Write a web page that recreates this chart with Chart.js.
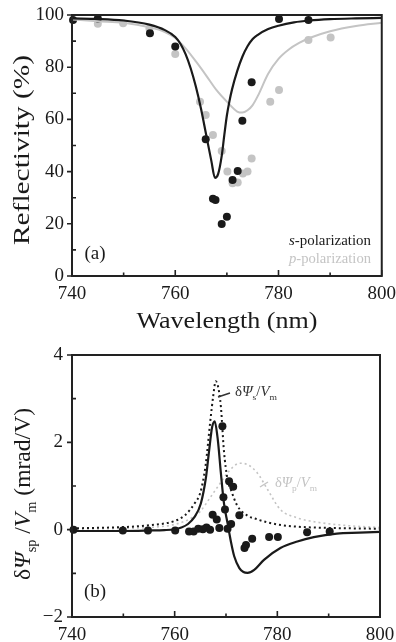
<!DOCTYPE html>
<html>
<head>
<meta charset="utf-8">
<script src="https://cdn.jsdelivr.net/npm/chart.js@4.4.1/dist/chart.umd.min.js"></script>
<style>
  html, body { margin: 0; padding: 0; background: #fff; }
  #wrap { position: relative; width: 396px; height: 642px; overflow: hidden; }
  .box { position: absolute; left: 0; width: 396px; }
</style>
</head>
<body>
<div id="wrap">
  <div class="box" style="top:0;height:340px"><canvas id="chartA"></canvas></div>
  <div class="box" style="top:340px;height:302px"><canvas id="chartB"></canvas></div>
</div>
<script>
// ---- panel (a): reflectivity ----
const sPointWl = [740.2, 745.0, 755.1, 760.0, 765.9, 767.3, 767.8, 769.0, 770.0, 771.1, 772.1, 773.0, 774.8, 780.1, 785.8];
const sPointR  = [98.1, 98.7, 93.0, 87.9, 52.4, 29.6, 29.1, 19.9, 22.7, 36.8, 40.2, 59.5, 74.2, 98.5, 98.1];
const pPointWl = [745.0, 749.9, 755.0, 760.0, 764.8, 765.9, 767.3, 769.0, 770.1, 771.1, 772.1, 773.1, 774.0, 774.8, 778.4, 780.1, 785.8, 790.1];
const pPointR  = [96.6, 96.8, 94.8, 85.1, 66.8, 61.7, 54.0, 47.9, 40.0, 35.5, 35.8, 39.3, 40.0, 45.0, 66.8, 71.3, 90.4, 91.4];
const sFitWl = [740, 745, 750, 755, 758, 760, 761, 762, 763, 764, 765, 766, 767, 767.7, 768.3, 769, 769.5, 770, 770.5, 771, 772, 773, 774, 775, 776, 778, 780, 783, 786, 790, 795, 800];
const sFitR  = [98.7, 98.5, 97.9, 96.3, 94.2, 91.6, 89, 85, 79.5, 72.5, 64, 54, 44, 37.6, 39, 46, 54, 61.5, 67, 71.5, 78.5, 84, 88, 90.8, 92.4, 94.6, 95.9, 97.2, 97.9, 98.4, 98.7, 98.9];
const pFitWl = [740, 745, 750, 755, 758, 760, 762, 764, 766, 768, 770, 772, 773, 774, 775, 776, 778, 780, 782, 784, 786, 790, 795, 800];
const pFitR  = [98.3, 97.6, 97.0, 95.3, 93.5, 91.2, 87.2, 82.2, 76.8, 71.2, 66.8, 63.0, 62.6, 63.5, 65.5, 69.0, 77.5, 83.2, 86.8, 89.3, 91.2, 93.8, 95.8, 97.0];

// ---- panel (b): modulation signal ----
const sigPointWl = [740.3, 749.9, 754.8, 760.1, 762.8, 763.7, 764.6, 765.5, 766.2, 766.9, 767.4, 768.2, 768.7, 769.3, 769.5, 769.8, 770.3, 770.6, 771.0, 771.4, 772.6, 773.6, 773.9, 775.1, 778.4, 780.1, 785.8, 790.2];
const sigPointV  = [0.0, -0.02, -0.02, -0.02, -0.04, -0.04, 0.02, 0.01, 0.05, 0.0, 0.34, 0.23, 0.04, 2.37, 0.74, 0.46, 0.02, 1.11, 0.13, 0.98, 0.33, -0.42, -0.35, -0.21, -0.17, -0.17, -0.06, -0.04];
const spFitWl = [740, 750, 755, 758, 760, 761.3, 762.6, 763.8, 765.1, 766.1, 766.7, 767.3, 767.8, 768.4, 769.0, 769.6, 770.3, 771.0, 771.6, 772.6, 773.4, 774.2, 775.5, 777.4, 780.6, 783.9, 787.1, 791.6, 796, 800];
const spFitV  = [-0.03, -0.03, -0.02, -0.01, 0.01, 0.05, 0.13, 0.28, 0.6, 1.2, 1.8, 2.35, 2.48, 2.06, 1.3, 0.61, 0.15, -0.3, -0.61, -0.88, -0.97, -0.99, -0.92, -0.69, -0.42, -0.27, -0.17, -0.09, -0.07, -0.05];
const sDotWl = [740, 750, 755, 760, 762, 764, 765, 766, 767, 767.5, 768, 768.5, 769, 769.6, 770.3, 771, 772.2, 774.2, 776, 778, 781, 785, 790, 800];
const sDotV  = [0.03, 0.06, 0.1, 0.2, 0.33, 0.62, 0.85, 1.45, 2.55, 3.05, 3.4, 3.25, 2.82, 1.8, 1.15, 0.9, 0.55, 0.32, 0.24, 0.17, 0.1, 0.06, 0.04, 0.02];
const pDotWl = [740, 750, 755, 760, 763, 765, 767, 768.5, 770.3, 771.5, 772.6, 774.2, 776.1, 778.1, 780.6, 783.9, 788.4, 794, 800];
const pDotV  = [0.01, 0.03, 0.05, 0.12, 0.25, 0.42, 0.75, 1.0, 1.3, 1.45, 1.52, 1.49, 1.3, 0.92, 0.46, 0.27, 0.16, 0.09, 0.05];

const xMinor = [750, 770, 790];
const yMinorA = [10, 30, 50, 70, 90];
const yMinorB = [-1, 1, 3];

const INK = '#1a1a1a';
const GREY = '#c4c4c4';
const SERIF = '"Liberation Serif", "DejaVu Serif", serif';

const pts = (xs, ys) => xs.map((x, i) => ({ x: x, y: ys[i] }));

// border box + tick marks, positioned through the chart scales
const framePlugin = {
  id: 'frame',
  afterDraw(chart, args, opts) {
    const ctx = chart.ctx, a = chart.chartArea;
    const xs = chart.scales.x, ys = chart.scales.y;
    ctx.save();
    ctx.strokeStyle = '#222';
    ctx.lineWidth = 1.6;
    ctx.beginPath();
    xs.ticks.forEach(t => {
      const px = xs.getPixelForValue(t.value);
      ctx.moveTo(px, a.bottom); ctx.lineTo(px, a.bottom - 6);
    });
    xMinor.forEach(v => {
      const px = xs.getPixelForValue(v);
      ctx.moveTo(px, a.bottom); ctx.lineTo(px, a.bottom - 3.5);
    });
    ys.ticks.forEach(t => {
      const py = ys.getPixelForValue(t.value);
      ctx.moveTo(a.left, py); ctx.lineTo(a.left - 5, py);
    });
    opts.yMinor.forEach(v => {
      const py = ys.getPixelForValue(v);
      ctx.moveTo(a.left, py); ctx.lineTo(a.left + 4, py);
    });
    ctx.stroke();
    ctx.lineWidth = 2;
    ctx.strokeRect(a.left, a.top, a.right - a.left, a.bottom - a.top);
    ctx.restore();
  }
};

// draw a line of mixed-font runs, stretched to a given length
function drawRuns(ctx, runs, x, y, targetW, rotate, align) {
  ctx.save();
  let total = 0;
  runs.forEach(r => { ctx.font = r.font; r.w = ctx.measureText(r.t).width; total += r.w; });
  const k = targetW ? targetW / total : 1;
  ctx.translate(x, y);
  if (rotate) ctx.rotate(-Math.PI / 2);
  ctx.scale(k, 1);
  ctx.textBaseline = 'alphabetic';
  ctx.textAlign = 'left';
  let cx = align === 'left' ? 0 : align === 'right' ? -total : -total / 2;
  runs.forEach(r => {
    ctx.font = r.font;
    ctx.fillStyle = r.color || INK;
    ctx.fillText(r.t, cx, r.dy || 0);
    cx += r.w;
  });
  ctx.restore();
}

function leader(ctx, x1, y1, x2, y2, color) {
  ctx.save();
  ctx.strokeStyle = color; ctx.lineWidth = 1.4;
  ctx.beginPath(); ctx.moveTo(x1, y1); ctx.lineTo(x2, y2); ctx.stroke();
  ctx.restore();
}

const textA = {
  id: 'textA',
  afterDraw(chart) {
    const ctx = chart.ctx;
    drawRuns(ctx, [{ t: 'Reflectivity (%)', font: '24px ' + SERIF }], 29, 150, 190, true);
    drawRuns(ctx, [{ t: 'Wavelength (nm)', font: '23px ' + SERIF }], 227, 328, 181, false);
    drawRuns(ctx, [{ t: '(a)', font: '19px ' + SERIF }], 95, 259, 0, false);
    drawRuns(ctx, [{ t: 's', font: 'italic 15px ' + SERIF }, { t: '-polarization', font: '15px ' + SERIF }], 371, 245, 82, false, 'right');
    drawRuns(ctx, [{ t: 'p', font: 'italic 15px ' + SERIF, color: GREY }, { t: '-polarization', font: '15px ' + SERIF, color: GREY }], 371, 263, 82, false, 'right');
  }
};

const textB = {
  id: 'textB',
  afterDraw(chart) {
    const ctx = chart.ctx, off = 340;
    drawRuns(ctx, [
      { t: '\u03b4', font: '23px ' + SERIF },
      { t: '\u03a8', font: 'italic 23px ' + SERIF },
      { t: 'sp', font: '14px ' + SERIF, dy: 6 },
      { t: ' /', font: '23px ' + SERIF },
      { t: 'V', font: 'italic 23px ' + SERIF },
      { t: 'm', font: '14px ' + SERIF, dy: 6 },
      { t: ' (mrad/V)', font: '23px ' + SERIF }
    ], 30, 494 - off, 172, true);
    drawRuns(ctx, [{ t: '(b)', font: '19px ' + SERIF }], 95, 597 - off, 0, false);
    drawRuns(ctx, [
      { t: '\u03b4', font: '14px ' + SERIF, color: '#333' },
      { t: '\u03a8', font: 'italic 14px ' + SERIF, color: '#333' },
      { t: 's', font: '9px ' + SERIF, dy: 4, color: '#333' },
      { t: '/', font: '14px ' + SERIF, color: '#333' },
      { t: 'V', font: 'italic 14px ' + SERIF, color: '#333' },
      { t: 'm', font: '9px ' + SERIF, dy: 4, color: '#333' }
    ], 235, 396 - off, 42, false, 'left');
    leader(ctx, 218, 397 - off, 230, 393 - off, '#333');
    drawRuns(ctx, [
      { t: '\u03b4', font: '14px ' + SERIF, color: GREY },
      { t: '\u03a8', font: 'italic 14px ' + SERIF, color: GREY },
      { t: 'p', font: '9px ' + SERIF, dy: 4, color: GREY },
      { t: '/', font: '14px ' + SERIF, color: GREY },
      { t: 'V', font: 'italic 14px ' + SERIF, color: GREY },
      { t: 'm', font: '9px ' + SERIF, dy: 4, color: GREY }
    ], 275, 487 - off, 42, false, 'left');
    leader(ctx, 260, 487 - off, 268, 482 - off, GREY);
  }
};

const minus = v => (v < 0 ? '\u2212' + Math.abs(v) : '' + v);

// label gap comes from tickLength (grid hidden) so tick padding adds no edge overhang
function baseOptions(xHeight, yMin, yMax, yStep, yGap, pad, yMinor) {
  return {
    responsive: true,
    maintainAspectRatio: false,
    animation: false,
    events: [],
    layout: { padding: pad },
    plugins: { legend: { display: false }, tooltip: { enabled: false }, frame: { yMinor: yMinor } },
    scales: {
      x: {
        type: 'linear', min: 740, max: 800,
        grid: { display: false, drawTicks: true, tickLength: 7 }, border: { display: false },
        ticks: { stepSize: 20, color: INK, padding: 0, font: { family: SERIF, size: 19 } },
        afterFit: s => { s.height = xHeight; }
      },
      y: {
        min: yMin, max: yMax,
        grid: { display: false, drawTicks: true, tickLength: yGap }, border: { display: false },
        ticks: { stepSize: yStep, color: INK, padding: 0, font: { family: SERIF, size: 19 }, callback: minus },
        afterFit: s => { s.width = 72; }
      }
    }
  };
}

const lineSet = (data, color, width, dash) => ({
  data: data, showLine: true, pointRadius: 0, borderColor: color, borderWidth: width,
  borderDash: dash || [], cubicInterpolationMode: 'monotone', fill: false
});
const dotSet = (data, color) => ({
  data: data, showLine: false, pointRadius: 4, pointBackgroundColor: color,
  pointBorderWidth: 0, clip: false
});

new Chart(document.getElementById('chartA'), {
  type: 'scatter',
  data: {
    datasets: [
      lineSet(pts(sFitWl, sFitR), INK, 2.2),
      lineSet(pts(pFitWl, pFitR), GREY, 2),
      dotSet(pts(sPointWl, sPointR), INK),
      dotSet(pts(pPointWl, pPointR), GREY)
    ]
  },
  options: baseOptions(64, 0, 100, 20, 8, { top: 15, right: 13, left: 0, bottom: 0 }, yMinorA),
  plugins: [framePlugin, textA]
});

new Chart(document.getElementById('chartB'), {
  type: 'scatter',
  data: {
    datasets: [
      lineSet(pts(spFitWl, spFitV), INK, 2.2),
      dotSet(pts(sigPointWl, sigPointV), INK),
      lineSet(pts(sDotWl, sDotV), INK, 2, [2, 3]),
      lineSet(pts(pDotWl, pDotV), GREY, 1.6, [2, 3])
    ]
  },
  options: baseOptions(25, -2, 4, 2, 9, { top: 15, right: 16, left: 0, bottom: 0 }, yMinorB),
  plugins: [framePlugin, textB]
});
</script>
</body>
</html>
